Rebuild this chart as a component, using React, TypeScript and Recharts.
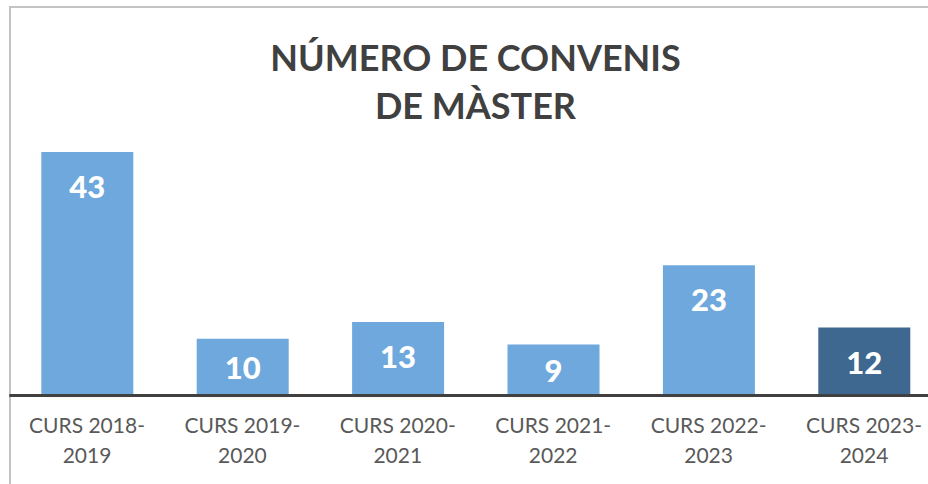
import React from "react";
import { BarChart, Bar, XAxis, YAxis, Cell, LabelList } from "recharts";

const categories = [
  "CURS 2018-2019",
  "CURS 2019-2020",
  "CURS 2020-2021",
  "CURS 2021-2022",
  "CURS 2022-2023",
  "CURS 2023-2024",
];
const convenis = [43, 10, 13, 9, 23, 12];
const titleLines = ["NÚMERO DE CONVENIS", "DE MÀSTER"];
const highlightIndex = 5;

const LIGHT = "#6FA8DC";
const DARK = "#3F6890";
const FONT = "Lato, 'Open Sans', sans-serif";

const data = categories.map((c, i) => ({ name: c, value: convenis[i] }));

const CategoryTick = (props: any) => {
  const { x, y, payload } = props;
  const label: string = payload.value;
  const idx = label.indexOf("-");
  const l1 = label.slice(0, idx + 1);
  const l2 = label.slice(idx + 1);
  return (
    <g>
      <text x={x} y={y + 37.5} textAnchor="middle" fill="#595959" fontSize={21} fontFamily={FONT}>
        {l1}
      </text>
      <text x={x} y={y + 67.5} textAnchor="middle" fill="#595959" fontSize={21} fontFamily={FONT}>
        {l2}
      </text>
    </g>
  );
};

const ValueLabel = (props: any) => {
  const { x, y, width, height, value } = props;
  const cy = y + Math.min(height / 2, 34);
  return (
    <text
      x={x + width / 2}
      y={cy}
      textAnchor="middle"
      dominantBaseline="central"
      fill="#FFFFFF"
      fontSize={31}
      fontWeight="900"
      fontFamily={FONT}
    >
      {value}
    </text>
  );
};

export default function App() {
  return (
    <div
      style={{
        position: "absolute",
        left: 0,
        top: 0,
        width: 928,
        height: 484,
        overflow: "hidden",
        background: "#FFFFFF",
      }}
    >
      <div
        style={{
          position: "absolute",
          left: 9,
          top: 6,
          width: 940,
          height: 500,
          border: "2px solid #C3C3C3",
          boxSizing: "border-box",
        }}
      />
      <div style={{ position: "absolute", left: 0, top: 0 }}>
        <BarChart
          width={942}
          height={484}
          data={data}
          margin={{ top: 152, right: 0.3, left: 9.3, bottom: 28.5 }}
        >
          <XAxis
            dataKey="name"
            interval={0}
            axisLine={{ stroke: "#404040", strokeWidth: 3 }}
            tickLine={false}
            tickSize={0}
            tickMargin={0}
            height={60}
            tick={<CategoryTick />}
          />
          <YAxis hide domain={[0, 43]} />
          <Bar dataKey="value" barSize={92} isAnimationActive={false}>
            {data.map((d, i) => (
              <Cell key={d.name} fill={i === highlightIndex ? DARK : LIGHT} />
            ))}
            <LabelList dataKey="value" content={<ValueLabel />} />
          </Bar>
        </BarChart>
      </div>
      <svg
        width={928}
        height={140}
        style={{ position: "absolute", left: 0, top: 0, pointerEvents: "none" }}
      >
        {titleLines.map((t, i) => (
          <text
            key={t}
            x={475.5}
            y={71 + i * 48}
            textAnchor="middle"
            fill="#404040"
            fontSize={36}
            fontWeight="bold"
            fontFamily={FONT}
          >
            {t}
          </text>
        ))}
      </svg>
    </div>
  );
}
